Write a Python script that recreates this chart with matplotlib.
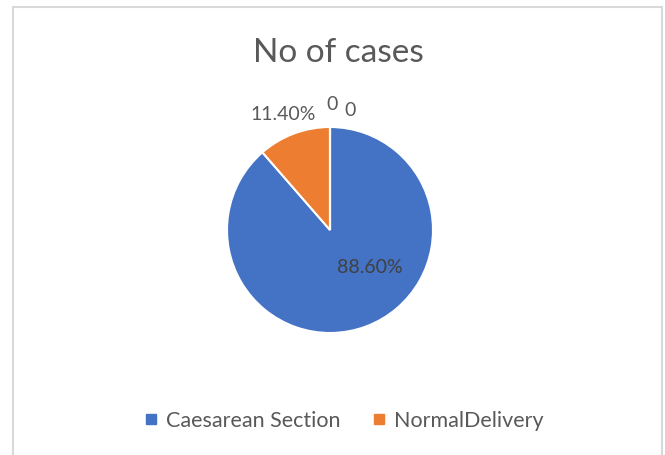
import numpy as np
import matplotlib.pyplot as plt
from matplotlib.patches import Rectangle

# data
categories = ["Caesarean Section", "NormalDelivery", "", ""]
values = [88.6, 11.4, 0, 0]
colors = ["#4472C4", "#ED7D31", "#A5A5A5", "#FFC000"]
title = "No of cases"

plt.rcParams['font.family'] = ['Lato', 'DejaVu Sans']
text_color = "#595959"

W, H = 665, 455
fig = plt.figure(figsize=(W / 100, H / 100), dpi=100)

# chart border (bottom edge runs off the image)
fig.patches.append(Rectangle((13 / W, -0.05), 649 / W, (H - 7) / H + 0.05,
                             transform=fig.transFigure, fill=False,
                             edgecolor="#D9D9D9", lw=1.5))

# pie axes: centre (330, 230) px, radius 103 px
cx, cy, r = 330, 230, 103
ax = fig.add_axes([(cx - r) / W, (H - cy - r) / H, 2 * r / W, 2 * r / H])
wedges, _ = ax.pie(values, colors=colors, startangle=90, counterclock=False,
                   wedgeprops=dict(edgecolor="white", linewidth=1.5))
ax.set_xlim(-1, 1)
ax.set_ylim(-1, 1)
ax.set_aspect("equal")
ax.axis("off")

pct = [f"{v:.2f}%" if v > 0 else "0" for v in values]
lbl = dict(ha="center", va="center", fontsize=14, color=text_color, clip_on=False)
ax.text(0.39, -0.36, pct[0], **{**lbl, "color": "#404040"})
ax.text(-0.45, 1.12, pct[1], **lbl)
ax.text(0.02, 1.22, pct[2], **lbl)
ax.text(0.19, 1.16, pct[3], **lbl)

fig.text(338 / W, 1 - 53 / H, title, ha="center", va="center", fontsize=24, color=text_color)

# legend (only the two named categories)
handles = [plt.Line2D([], [], marker="s", ls="", color=colors[i], markersize=7)
           for i in range(2)]
fig.legend(handles, categories[:2], loc="center", bbox_to_anchor=(343 / W, 1 - 421 / H),
           ncol=2, frameon=False, fontsize=15.5, labelcolor=text_color,
           handletextpad=0.3, columnspacing=1.4, handlelength=0.8)

fig.savefig("out.png", dpi=100)
